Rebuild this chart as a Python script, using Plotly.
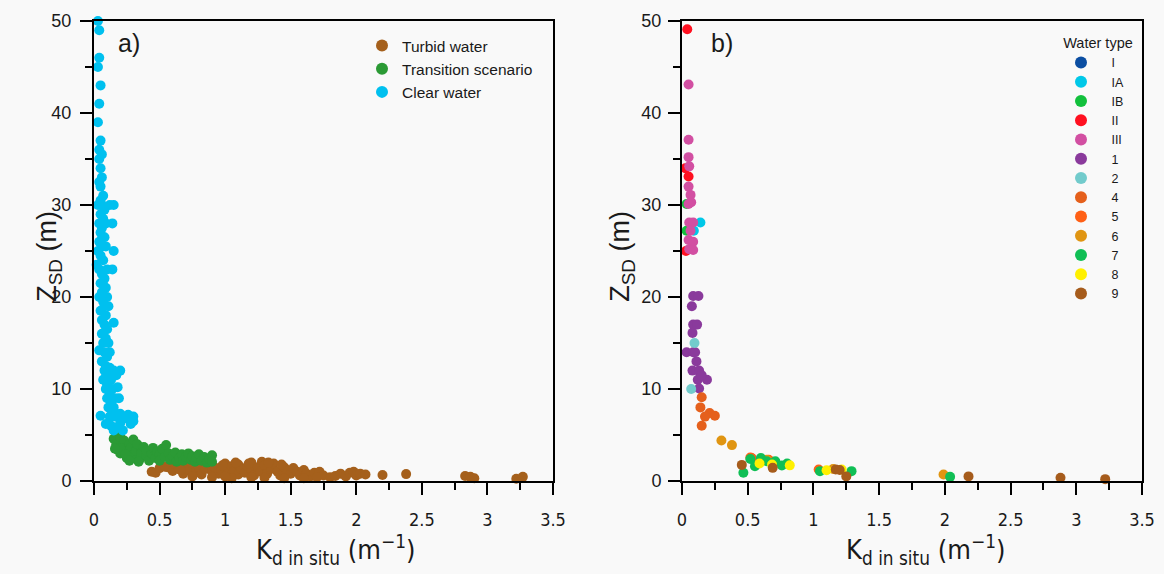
import plotly.graph_objects as go

# ---------------- Panel a data ----------------
clear_x = [0.03,0.04,0.04,0.03,0.05,0.04,0.03,0.05,0.04,0.06,0.04,0.05,0.06,0.04,0.05,0.07,0.05,0.03,0.06,0.15,0.12,
           0.08,0.05,0.07,0.04,0.14,0.09,0.06,0.05,0.08,0.04,0.06,0.15,0.09,0.03,0.05,0.07,0.02,0.04,0.14,0.10,0.06,
           0.08,0.05,0.09,0.06,0.10,0.04,0.07,0.08,0.11,0.05,0.09,0.06,0.15,0.08,0.10,0.06,0.09,0.11,0.07,0.04,0.08,
           0.12,0.10,0.06,0.09,0.12,0.20,0.15,0.08,0.11,0.17,0.13,0.07,0.10,0.18,0.14,0.09,0.12,0.19,0.16,0.10,0.13,
           0.15,0.11,0.14,0.20,0.26,0.30,0.05,0.12,0.16,0.23,0.30,0.28,0.20,0.09,0.13,0.17,0.15,0.22]
clear_y = [50,49,46,45,43,41,39,37,36,35.5,35,34,33,32.5,32,31,30.5,30,30,30,30,
           29.5,29,28.5,28,28,28,27.5,27,26.5,26,25.5,25,25.5,25,24.5,24,23.5,23,23,23,22.5,
           22,21.5,21,20.5,20,20,19.5,19,19,18.5,18,17.5,17.2,17,16.5,16,15.5,15,15,14.2,14,
           14,13.5,13,12.5,12.3,12,12,12,11.5,11.5,11,11,10.5,10.2,10,10,9.5,9,9,9,8.5,
           8,8,7.5,7.3,7.2,7,7.1,7,7,6.8,6.5,6.2,6.3,6.2,6,5.8,5.5,5.5]

trans_x = [0.15,0.17,0.18,0.20,0.20,0.22,0.23,0.25,0.25,0.27,0.28,0.30,0.30,0.32,0.33,0.35,0.36,0.38,0.40,0.40,
           0.42,0.44,0.45,0.47,0.48,0.50,0.50,0.52,0.54,0.55,0.57,0.58,0.60,0.62,0.63,0.65,0.67,0.68,0.70,0.72,
           0.74,0.75,0.77,0.78,0.80,0.82,0.84,0.86,0.88,0.90,0.90,0.20,0.16,0.24,0.34,0.27]
trans_y = [4.6,4.0,3.4,4.8,3.0,3.8,4.4,3.2,2.5,4.0,3.6,4.5,2.8,3.3,4.0,2.4,3.0,3.7,2.7,3.3,
           2.2,3.0,3.6,2.5,3.2,2.9,2.2,3.5,2.6,3.9,3.0,2.3,2.7,3.1,2.1,2.5,2.9,2.2,2.6,3.0,
           2.3,2.7,2.1,2.5,2.9,2.2,2.6,2.0,2.4,2.8,2.1,3.6,3.5,2.9,2.1,2.2]

turbid_x = [0.44,0.47,0.50,0.54,0.56,0.60,0.62,0.65,0.68,0.70,0.72,0.75,0.78,0.80,0.82,0.85,0.88,0.90,0.92,0.95,
            0.97,1.00,1.00,1.02,1.05,1.07,1.10,1.10,1.12,1.15,1.17,1.20,1.20,1.22,1.25,1.27,1.28,1.30,1.32,1.35,
            1.37,1.40,1.42,1.45,1.47,1.50,1.52,1.55,1.57,1.60,1.62,1.65,1.68,1.72,1.75,1.80,1.84,1.88,1.92,1.95,
            1.98,2.00,2.03,2.07,2.20,2.38,2.83,2.87,2.90,3.22,3.27,0.90,1.05,1.30,1.45,1.00,1.20,0.75,1.60,1.70,0.66,
            1.08,1.18,1.33,1.43,0.98]
turbid_y = [1.0,0.9,1.4,1.55,1.5,1.1,1.8,1.3,0.8,1.6,1.2,1.9,1.0,1.5,0.7,1.3,1.8,1.0,1.5,0.8,
            1.2,1.9,1.4,0.9,1.6,1.1,0.7,1.8,1.3,0.9,1.6,1.2,2.0,0.6,1.5,1.0,2.1,1.7,0.8,1.3,
            1.9,1.0,0.6,1.5,1.2,0.8,1.4,1.0,0.6,1.2,0.8,0.5,0.9,1.0,0.6,0.4,0.55,0.8,0.5,0.9,
            1.0,0.6,0.8,0.7,0.65,0.75,0.55,0.45,0.3,0.25,0.45,0.4,0.3,0.35,0.3,0.5,0.4,0.5,0.3,0.4,1.2,
            2.0,1.9,2.0,1.8,1.7]

# ---------------- Panel b data ----------------
water_types = ["I", "IA", "IB", "II", "III", "1", "2", "4", "5", "6", "7", "8", "9"]
type_colors = ["#0b4ea2", "#00c8e8", "#12c03c", "#ff1020", "#d24fa2", "#8a3a9c", "#72cbcc",
               "#e5601c", "#ff6016", "#e09512", "#10bf55", "#fff000", "#a65c1c"]

I_x, I_y = [None], [None]
IA_x, IA_y = [0.14, 0.09], [28.1, 27.2]
IB_x, IB_y = [0.035, 0.035], [27.2, 30.1]
II_x, II_y = [0.04, 0.025, 0.05, 0.03], [49.1, 34.0, 33.1, 25.0]
III_x = [0.05, 0.05, 0.05, 0.055, 0.05, 0.065, 0.07, 0.05, 0.055, 0.085, 0.065, 0.05, 0.085, 0.055, 0.085]
III_y = [43.1, 37.1, 35.2, 34.2, 32.0, 31.1, 30.3, 30.1, 28.1, 28.1, 27.2, 26.2, 26.0, 25.2, 25.1]
T1_x = [0.085, 0.125, 0.075, 0.085, 0.115, 0.08, 0.035, 0.085, 0.11, 0.08, 0.13, 0.19, 0.12, 0.13, 0.15, 0.10]
T1_y = [20.1, 20.1, 19.0, 17.0, 17.0, 16.1, 14.0, 14.0, 13.0, 12.0, 12.0, 11.0, 11.0, 10.05, 11.5, 14.0]
T2_x, T2_y = [0.095, 0.07], [15.0, 10.0]
T4_x = [0.15, 0.14, 0.21, 0.25, 0.175, 0.15, 0.53]
T4_y = [9.1, 8.0, 7.4, 7.1, 7.0, 6.0, 2.5]
T5_x, T5_y = [0.52, 0.66, 1.04], [2.55, 2.3, 1.25]
T6_x, T6_y = [0.30, 0.38, 0.645, 1.15, 1.99], [4.4, 3.9, 2.3, 1.3, 0.7]
T7_x = [0.467, 0.52, 0.60, 0.555, 0.645, 0.71, 0.76, 0.80, 1.05, 1.29, 2.04]
T7_y = [0.9, 2.4, 2.5, 1.6, 2.15, 2.15, 1.68, 1.9, 1.07, 1.07, 0.45]
T8_x, T8_y = [0.59, 0.685, 0.82, 1.10, 1.215], [1.9, 1.8, 1.7, 1.17, 1.25]
T9_x = [0.455, 0.69, 1.17, 1.20, 1.25, 2.18, 2.88, 3.22]
T9_y = [1.75, 1.43, 1.25, 1.2, 0.5, 0.5, 0.35, 0.2]

type_x = [I_x, IA_x, IB_x, II_x, III_x, T1_x, T2_x, T4_x, T5_x, T6_x, T7_x, T8_x, T9_x]
type_y = [I_y, IA_y, IB_y, II_y, III_y, T1_y, T2_y, T4_y, T5_y, T6_y, T7_y, T8_y, T9_y]

x_ticks = [0, 0.5, 1, 1.5, 2, 2.5, 3, 3.5]
x_tick_labels = ["0", "0.5", "1", "1.5", "2", "2.5", "3", "3.5"]
y_ticks = [0, 10, 20, 30, 40, 50]

NARROW = "Liberation Sans Narrow, Arial Narrow, DejaVu Sans Condensed, Liberation Sans, sans-serif"
REG = "Liberation Sans, Arial, sans-serif"
BG = "#f9f9f9"
TXT = "#1a1a1a"

fig = go.Figure()
MS = 10
fig.add_trace(go.Scatter(x=turbid_x, y=turbid_y, mode="markers", name="Turbid water",
                         marker=dict(color="#a5601c", size=MS), cliponaxis=False,
                         xaxis="x", yaxis="y", legend="legend"))
fig.add_trace(go.Scatter(x=trans_x, y=trans_y, mode="markers", name="Transition scenario",
                         marker=dict(color="#2b9a35", size=MS), cliponaxis=False,
                         xaxis="x", yaxis="y", legend="legend"))
fig.add_trace(go.Scatter(x=clear_x, y=clear_y, mode="markers", name="Clear water",
                         marker=dict(color="#00c0ef", size=MS), cliponaxis=False,
                         xaxis="x", yaxis="y", legend="legend"))

for name, col, xs, ys in zip(water_types, type_colors, type_x, type_y):
    fig.add_trace(go.Scatter(x=xs, y=ys, mode="markers", name="\u00a0\u00a0\u00a0" + name,
                             marker=dict(color=col, size=MS), cliponaxis=False,
                             xaxis="x2", yaxis="y2", legend="legend2"))

def xax(domain, anchor):
    return dict(domain=domain, anchor=anchor, range=[0, 3.5], tickvals=x_ticks, ticktext=x_tick_labels,
                automargin=False,
                ticks="outside", ticklen=12, tickwidth=2, tickcolor="black", ticklabelstandoff=9,
                minor=dict(dtick=0.25, ticks="outside", ticklen=7, tickwidth=2, tickcolor="black", showgrid=False),
                showline=True, linewidth=2, linecolor="black", mirror=True, showgrid=False, zeroline=False,
                tickfont=dict(family=NARROW, size=18, color=TXT))

def yax(domain, anchor, standoff):
    return dict(domain=domain, anchor=anchor, range=[0, 50], tickvals=y_ticks,
                automargin=False,
                ticks="outside", ticklen=12, tickwidth=2, tickcolor="black", ticklabelstandoff=standoff,
                minor=dict(dtick=5, ticks="outside", ticklen=7, tickwidth=2, tickcolor="black", showgrid=False),
                showline=True, linewidth=2, linecolor="black", mirror=True, showgrid=False, zeroline=False,
                tickfont=dict(family=REG, size=18, color=TXT))

W, H = 1164, 574
ydom = [(H - 481) / H, (H - 21) / H]
ymid = (ydom[0] + ydom[1]) / 2
ytitle = "Z<sub>SD</sub> (m)"
xtitle = "K<sub>d in situ</sub> (m<sup>\u22121</sup>)"
xtitle_y = 1 - 549 / H
fig.update_layout(
    width=W, height=H, margin=dict(l=0, r=0, t=0, b=0, autoexpand=False),
    paper_bgcolor=BG, plot_bgcolor=BG,
    xaxis=xax([94 / W, 553 / W], "y"), yaxis=yax(ydom, "x", 5),
    xaxis2=xax([682 / W, 1142 / W], "y2"), yaxis2=yax(ydom, "x2", 3),
    legend=dict(x=362 / W, y=1 - 29 / H, xanchor="left", yanchor="top", bgcolor="rgba(0,0,0,0)",
                font=dict(family=REG, size=15.5, color=TXT), tracegroupgap=0, itemsizing="constant"),
    legend2=dict(x=1061 / W, y=1 - 29 / H, xanchor="left", yanchor="top", bgcolor="rgba(0,0,0,0)",
                 font=dict(family=REG, size=12.5, color=TXT), itemsizing="constant",
                 title=dict(text="Water type", font=dict(family=REG, size=14.5, color=TXT), side="top center")),
    showlegend=True,
    annotations=[
        dict(text="a)", x=0.048, y=0.952, xref="x domain", yref="y domain", xanchor="left", yanchor="middle",
             showarrow=False, font=dict(family=REG, size=25, color=TXT)),
        dict(text="b)", x=0.058, y=0.952, xref="x2 domain", yref="y2 domain", xanchor="left", yanchor="middle",
             showarrow=False, font=dict(family=REG, size=25, color=TXT)),
        dict(text=ytitle, textangle=-90, x=49 / W, y=ymid - 0.01, xref="paper", yref="paper",
             xanchor="center", yanchor="middle", showarrow=False, font=dict(family=REG, size=27, color=TXT)),
        dict(text=ytitle, textangle=-90, x=622 / W, y=ymid - 0.01, xref="paper", yref="paper",
             xanchor="center", yanchor="middle", showarrow=False, font=dict(family=REG, size=27, color=TXT)),
        dict(text=xtitle, x=336 / W, y=xtitle_y, xref="paper", yref="paper",
             xanchor="center", yanchor="middle", showarrow=False, font=dict(family=NARROW, size=27, color=TXT)),
        dict(text=xtitle, x=925 / W, y=xtitle_y, xref="paper", yref="paper",
             xanchor="center", yanchor="middle", showarrow=False, font=dict(family=NARROW, size=27, color=TXT)),
    ],
)

fig.write_html("out.html")
